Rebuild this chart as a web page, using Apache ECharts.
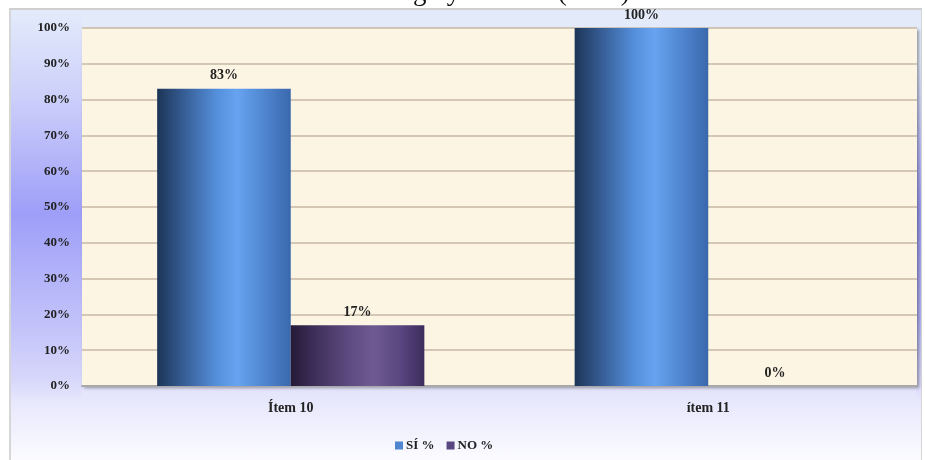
<!DOCTYPE html>
<html>
<head>
<meta charset="utf-8">
<script src="https://cdn.jsdelivr.net/npm/echarts@6/dist/echarts.min.js"></script>
<style>
  html, body { margin: 0; padding: 0; background: #ffffff; }
  #wrap { position: relative; width: 925px; height: 460px; overflow: hidden; }
  #frame {
    position: absolute; left: 9px; top: 8px; width: 913px; height: 452px;
    border-top: 2px solid #cfcfcf; border-left: 2px solid #d6d6d6; border-right: 1px solid #d6d6d6;
    box-sizing: border-box;
    background: linear-gradient(to bottom, #e3ebfb 0%, #e6e9fb 40%, #e0e0fb 82%, #fbfbff 100%);
  }
  #leftglow {
    position: absolute; left: 11px; top: 10px; width: 71px; height: 392px;
    background: linear-gradient(to bottom, rgba(160,160,248,0) 0%, rgba(160,160,248,0.35) 22%, rgba(150,150,248,0.9) 52%, rgba(160,160,248,0.45) 82%, rgba(160,160,248,0) 100%);
  }
  #rightglow {
    position: absolute; left: 916px; top: 60px; width: 5px; height: 340px;
    background: linear-gradient(to bottom, rgba(150,150,248,0) 0%, rgba(150,150,248,0.9) 45%, rgba(150,150,248,0.6) 75%, rgba(150,150,248,0) 100%);
  }
  #chart { position: absolute; left: 0; top: 0; width: 925px; height: 460px; }
</style>
</head>
<body>
<div id="wrap">
  <div id="frame"></div>
  <div id="leftglow"></div>
  <div id="rightglow"></div>
  <div id="chart"></div>
</div>
<script>
const categories = ['Ítem 10', 'ítem 11'];
const siValues = [83, 100];
const noValues = [17, 0];
const yTicks = [0, 10, 20, 30, 40, 50, 60, 70, 80, 90, 100];
const seriesNames = ['SÍ %', 'NO %'];
const sourceText = 'Fuente: Lugo y Rosales (2020)';

const serif = 'Liberation Serif';
const chart = echarts.init(document.getElementById('chart'));

const siGradient = new echarts.graphic.LinearGradient(0, 0, 1, 0, [
  { offset: 0, color: '#1c3556' },
  { offset: 0.18, color: '#34598f' },
  { offset: 0.45, color: '#5590dc' },
  { offset: 0.6, color: '#67a3f0' },
  { offset: 0.8, color: '#4f86cf' },
  { offset: 1, color: '#3a68ad' }
]);
const noGradient = new echarts.graphic.LinearGradient(0, 0, 1, 0, [
  { offset: 0, color: '#241a36' },
  { offset: 0.18, color: '#3e2f5a' },
  { offset: 0.45, color: '#5f4c82' },
  { offset: 0.62, color: '#6f5a92' },
  { offset: 0.82, color: '#5a4680' },
  { offset: 1, color: '#3c2c5c' }
]);

const labelStyle = {
  show: true, position: 'top', distance: 6,
  formatter: '{c}%', color: '#222', fontFamily: serif, fontWeight: 'bold', fontSize: 14
};

chart.setOption({
  backgroundColor: 'transparent',
  animation: false,
  title: {
    text: sourceText, left: 'center', top: -26,
    textStyle: { fontFamily: serif, fontWeight: 'normal', fontSize: 27, color: '#111' }
  },
  grid: {
    left: 82, right: 8, top: 28, bottom: 74,
    show: true, backgroundColor: '#fdf5e4', borderWidth: 0,
    shadowColor: 'rgba(0,0,0,0.35)', shadowBlur: 3, shadowOffsetX: 2, shadowOffsetY: 2
  },
  legend: {
    data: [
      { name: seriesNames[0], itemStyle: { color: '#4f86cf' } },
      { name: seriesNames[1], itemStyle: { color: '#5a4680' } }
    ],
    left: 390, top: 434,
    icon: 'rect', itemWidth: 8, itemHeight: 8, itemGap: 12,
    textStyle: { fontFamily: serif, fontWeight: 'bold', fontSize: 13, color: '#222', padding: [0, 0, 0, -2] }
  },
  xAxis: {
    type: 'category', data: categories,
    axisLine: { lineStyle: { color: '#a9a9a9', width: 2 } },
    axisTick: { show: false },
    axisLabel: { margin: 15, fontFamily: serif, fontWeight: 'bold', fontSize: 14, color: '#222' }
  },
  yAxis: {
    type: 'value', min: yTicks[0], max: yTicks[yTicks.length - 1], interval: yTicks[1] - yTicks[0],
    axisLine: { show: false }, axisTick: { show: false },
    axisLabel: { formatter: '{value}%', margin: 12, fontFamily: serif, fontWeight: 'bold', fontSize: 13, color: '#222' },
    splitLine: { lineStyle: { color: '#c6b9a6', width: 1.5 } }
  },
  series: [
    {
      name: seriesNames[0], type: 'bar', data: siValues,
      barGap: '0%', barCategoryGap: '36%',
      itemStyle: { color: siGradient },
      label: labelStyle
    },
    {
      name: seriesNames[1], type: 'bar', data: noValues,
      itemStyle: { color: noGradient },
      label: labelStyle
    }
  ]
});
</script>
</body>
</html>
